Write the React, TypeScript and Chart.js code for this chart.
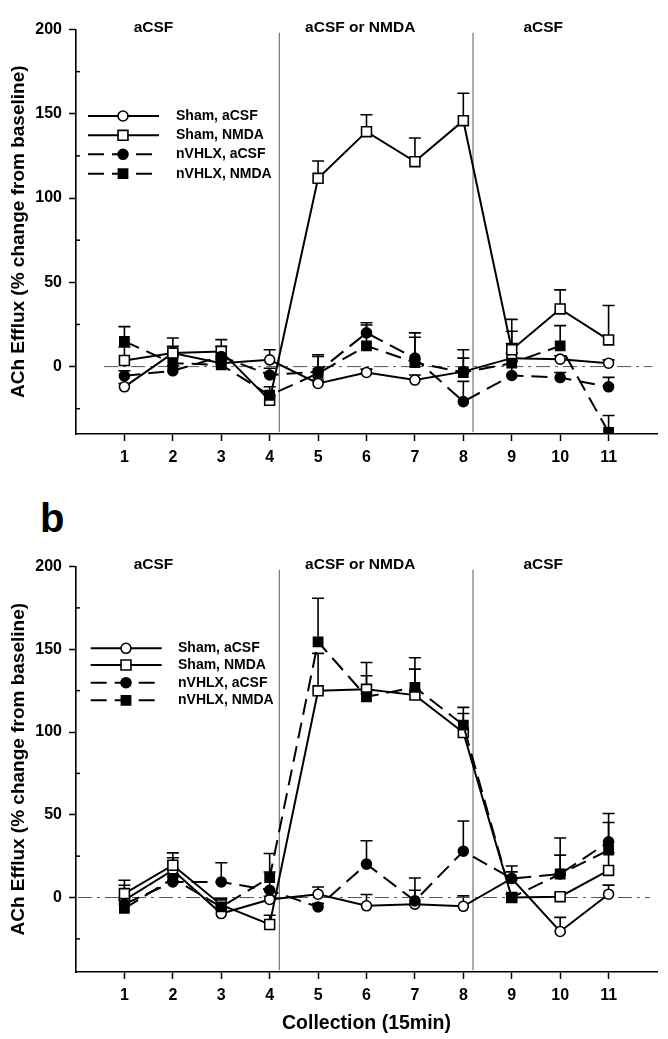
import React, { useEffect, useRef } from 'react';
import { Chart, registerables } from 'chart.js';

Chart.register(...registerables);

const FONT = '"Liberation Sans", Arial, Helvetica, sans-serif';

// ---------- categories / labels ----------
const collections = [1, 2, 3, 4, 5, 6, 7, 8, 9, 10, 11];
const xTickLabels = ['1', '2', '3', '4', '5', '6', '7', '8', '9', '10', '11'];
const seriesNames = ['Sham, aCSF', 'Sham, NMDA', 'nVHLX, aCSF', 'nVHLX, NMDA'];
const phaseLabels = ['aCSF', 'aCSF or NMDA', 'aCSF'];
const phaseCenters = [1.6, 5.87, 9.65];
const phaseBoundaries = [4.2, 8.2];
const yMajorTicks = [0, 50, 100, 150, 200];
const yMinorTicks = [-25, 25, 75, 125, 175];
const yTitle = 'ACh Efflux (% change from baseline)';
const xTitle = 'Collection (15min)';

// ---------- panel a ----------
const aShamACSF = [-12, 8, 2, 4, -10, -3.5, -8, -3, 5, 4.4, 2];
const aShamACSFErr = [2, 4, 3, 6, 2, 2, 3, 8, 3, 2, 2];
const aShamNMDA = [3.6, 8, 9, -20, 111.7, 139.4, 121.6, 145.9, 10, 34.2, 15.8];
const aShamNMDAErr = [8, 9, 7, 3, 10.3, 10, 14, 16.3, 18, 11.3, 20.4];
const aNvhlxACSF = [-5.5, -2.5, 6, -5, -3, 20, 5, -20.8, -5.3, -6.5, -12];
const aNvhlxACSFErr = [3, 3, 6, 4, 9, 6, 15, 12, 19, 3, 5.6];
const aNvhlxNMDA = [15, 2, 1, -17, -4, 12.3, 2.4, -3.5, 2, 12.3, -39];
const aNvhlxNMDAErr = [8.7, 4, 3, 5, 11, 12.4, 15, 13.5, 19, 12, 10];

// ---------- panel b ----------
const bShamACSF = [-1.6, 16.5, -9.7, -1.2, 2, -5, -4, -5.3, 11.5, -20.5, 2];
const bShamACSFErr = [9, 7.5, 3, 2, 4.4, 6.8, 8.4, 6.3, 4, 8.5, 5.5];
const bShamNMDA = [2.4, 19.5, -4.5, -16.3, 124.9, 125.8, 122.3, 99.7, 0, 0.5, 16.4];
const bShamNMDAErr = [8, 7.5, 4, 5.6, 22.6, 16.2, 15.7, 11.5, 2, 2, 10.6];
const bNvhlxACSF = [-4, 9.4, 9.4, 4.4, -5.7, 20.2, -2, 28, 11.5, 14.2, 33.6];
const bNvhlxACSFErr = [4, 3, 11.6, 11, 2, 14.1, 13.8, 18.2, 7.5, 21.8, 17.2];
const bNvhlxNMDA = [-6.6, 11.5, -5.7, 12, 154.5, 121.3, 127, 104.2, 0, 14.2, 28.6];
const bNvhlxNMDAErr = [5, 3, 5, 14.6, 26.3, 12.7, 17.9, 10.7, 2, 11.4, 16.7];

// ---------- series styles ----------
const pointStyles = ['circle', 'rect', 'circle', 'rect'];
const pointRadii = [5, 7, 5, 6.5];
const filled = [false, false, true, true];
const dashed = [false, false, true, true];
const DASH = [16, 8];

type PanelProps = {
  values: number[][];
  errs: number[][];
  yMin: number;
  top: number;
  height: number;
  padTop: number;
  xHeight: number;
  zeroFrom: number;
  zeroTo: number;
  legendRows: number[];
  legendLine: [number, number];
  legendMarker: number;
  legendText: number;
  showXTitle: boolean;
};

function Panel(p: PanelProps) {
  const ref = useRef<HTMLCanvasElement | null>(null);

  useEffect(() => {
    const canvas = ref.current;
    if (!canvas) return;

    const seriesDatasets = p.values.map((vals, s) => ({
      type: 'line' as const,
      label: seriesNames[s],
      data: collections.map((c, i) => ({ x: c, y: vals[i] })),
      borderColor: '#000',
      borderWidth: 2,
      borderDash: dashed[s] ? DASH : [],
      pointStyle: pointStyles[s],
      pointRadius: pointRadii[s],
      pointBorderWidth: 1.6,
      pointBorderColor: '#000',
      pointBackgroundColor: filled[s] ? '#000' : '#fff',
      tension: 0,
      order: 4 - s,
    }));

    const refDatasets = [
      {
        type: 'line' as const,
        label: 'zero',
        data: [
          { x: p.zeroFrom, y: 0 },
          { x: p.zeroTo, y: 0 },
        ],
        borderColor: '#555',
        borderWidth: 1,
        borderDash: [14, 5, 3, 5],
        pointRadius: 0,
        order: 20,
      },
      ...phaseBoundaries.map((b, k) => ({
        type: 'line' as const,
        label: 'boundary' + k,
        data: [
          { x: b, y: p.yMin + 1 },
          { x: b, y: 198 },
        ],
        borderColor: '#777',
        borderWidth: 1.2,
        pointRadius: 0,
        order: 21,
      })),
    ];

    const errorBarPlugin = {
      id: 'errorBars',
      beforeDatasetsDraw(chart: any) {
        const { ctx, scales } = chart;
        ctx.save();
        ctx.strokeStyle = '#000';
        ctx.lineWidth = 1.6;
        p.values.forEach((vals, s) => {
          vals.forEach((v, i) => {
            const x = scales.x.getPixelForValue(collections[i]);
            const y0 = scales.y.getPixelForValue(v);
            const y1 = scales.y.getPixelForValue(v + p.errs[s][i]);
            ctx.beginPath();
            ctx.moveTo(x, y0);
            ctx.lineTo(x, y1);
            ctx.moveTo(x - 6, y1);
            ctx.lineTo(x + 6, y1);
            ctx.stroke();
          });
        });
        ctx.restore();
      },
    };

    const decorPlugin = {
      id: 'decor',
      afterDraw(chart: any) {
        const { ctx, scales, chartArea } = chart;
        ctx.save();
        // minor ticks (inward)
        ctx.strokeStyle = '#000';
        ctx.lineWidth = 1.5;
        yMinorTicks.forEach((t) => {
          if (t < p.yMin) return;
          const y = scales.y.getPixelForValue(t);
          ctx.beginPath();
          ctx.moveTo(chartArea.left, y);
          ctx.lineTo(chartArea.left + 4, y);
          ctx.stroke();
        });
        // phase labels
        ctx.fillStyle = '#000';
        ctx.font = `bold 15.5px ${FONT}`;
        ctx.textAlign = 'center';
        ctx.textBaseline = 'alphabetic';
        const yTop = scales.y.getPixelForValue(200) + 2;
        phaseLabels.forEach((lab, k) => {
          ctx.fillText(lab, scales.x.getPixelForValue(phaseCenters[k]), yTop);
        });
        // legend
        ctx.font = `bold 14px ${FONT}`;
        ctx.textAlign = 'left';
        ctx.textBaseline = 'middle';
        seriesNames.forEach((name, s) => {
          const y = p.legendRows[s];
          ctx.strokeStyle = '#000';
          ctx.lineWidth = 2;
          ctx.setLineDash(dashed[s] ? DASH : []);
          ctx.beginPath();
          ctx.moveTo(p.legendLine[0], y);
          ctx.lineTo(dashed[s] ? p.legendLine[1] - 6 : p.legendLine[1], y);
          ctx.stroke();
          ctx.setLineDash([]);
          ctx.lineWidth = 1.6;
          ctx.fillStyle = filled[s] ? '#000' : '#fff';
          ctx.beginPath();
          if (pointStyles[s] === 'circle') {
            ctx.arc(p.legendMarker, y, pointRadii[s], 0, Math.PI * 2);
          } else {
            const h = pointRadii[s] * Math.SQRT1_2;
            ctx.rect(p.legendMarker - h, y - h, 2 * h, 2 * h);
          }
          ctx.fill();
          ctx.stroke();
          ctx.fillStyle = '#000';
          ctx.fillText(name, p.legendText, y);
        });
        ctx.restore();
      },
    };

    const tickFont = { family: FONT, size: 16, weight: 'bold' as const };
    const titleFont = { family: FONT, size: 19, weight: 'bold' as const };

    const chart = new Chart(canvas, {
      type: 'line',
      data: { datasets: [...seriesDatasets, ...refDatasets] as any },
      options: {
        animation: false,
        responsive: false,
        maintainAspectRatio: false,
        devicePixelRatio: 1,
        layout: { padding: { top: p.padTop, right: 11, left: 0, bottom: 0 } },
        plugins: {
          legend: { display: false },
          tooltip: { enabled: false },
          title: { display: false },
        },
        scales: {
          x: {
            type: 'linear',
            min: 0,
            max: 12,
            afterBuildTicks: (s: any) => {
              s.ticks = collections.map((v) => ({ value: v }));
            },
            afterFit: (s: any) => {
              s.height = p.xHeight;
            },
            grid: {
              drawOnChartArea: false,
              drawTicks: true,
              tickLength: 7,
              tickWidth: 1.5,
              tickColor: '#000',
            },
            border: { display: true, color: '#000', width: 1.6 },
            ticks: {
              color: '#000',
              font: tickFont,
              padding: 7,
              autoSkip: false,
              maxRotation: 0,
              callback: (v: any) => {
                const i = collections.indexOf(Number(v));
                return i >= 0 ? xTickLabels[i] : '';
              },
            },
            title: {
              display: p.showXTitle,
              text: xTitle,
              color: '#000',
              font: { family: FONT, size: 19.5, weight: 'bold' as const },
              padding: { top: 0, bottom: 4 },
            },
          },
          y: {
            type: 'linear',
            min: p.yMin,
            max: 200,
            afterBuildTicks: (s: any) => {
              s.ticks = [...yMinorTicks.filter((t) => t >= p.yMin), ...yMajorTicks]
                .sort((a, b) => a - b)
                .map((v) => ({ value: v }));
            },
            afterFit: (s: any) => {
              s.width = 76;
            },
            grid: {
              drawOnChartArea: false,
              drawTicks: true,
              tickLength: 7,
              tickWidth: 1.5,
              tickColor: (ctx: any) =>
                ctx.tick && yMajorTicks.includes(ctx.tick.value) ? '#000' : 'rgba(0,0,0,0)',
            },
            border: { display: true, color: '#000', width: 1.6 },
            ticks: {
              color: '#000',
              font: tickFont,
              padding: 7,
              autoSkip: false,
              callback: (v: any) => (yMajorTicks.includes(Number(v)) ? String(v) : ''),
            },
            title: {
              display: true,
              text: yTitle,
              color: '#000',
              font: titleFont,
              padding: { top: 7, bottom: 0 },
            },
          },
        },
      },
      plugins: [errorBarPlugin, decorPlugin],
    });

    return () => chart.destroy();
  }, []);

  return (
    <canvas
      ref={ref}
      width={668}
      height={p.height}
      style={{ position: 'absolute', left: 0, top: p.top, width: 668, height: p.height, display: 'block' }}
    />
  );
}

export default function App() {
  return (
    <div style={{ position: 'absolute', left: 0, top: 0, width: 668, height: 1039, background: '#fff', overflow: 'hidden' }}>
      <Panel
        values={[aShamACSF, aShamNMDA, aNvhlxACSF, aNvhlxNMDA]}
        errs={[aShamACSFErr, aShamNMDAErr, aNvhlxACSFErr, aNvhlxNMDAErr]}
        yMin={-40}
        top={0}
        height={475}
        padTop={29.5}
        xHeight={41}
        zeroFrom={0.58}
        zeroTo={11.9}
        legendRows={[116, 135.3, 154.3, 173.7]}
        legendLine={[88, 159]}
        legendMarker={123}
        legendText={176}
        showXTitle={false}
      />
      <div
        style={{
          position: 'absolute',
          left: 40,
          top: 498,
          fontFamily: FONT,
          fontWeight: 'bold',
          fontSize: 40,
          lineHeight: '40px',
          color: '#000',
        }}
      >
        b
      </div>
      <Panel
        values={[bShamACSF, bShamNMDA, bNvhlxACSF, bNvhlxNMDA]}
        errs={[bShamACSFErr, bShamNMDAErr, bNvhlxACSFErr, bNvhlxNMDAErr]}
        yMin={-45}
        top={540}
        height={499}
        padTop={26.5}
        xHeight={67}
        zeroFrom={0.04}
        zeroTo={11.85}
        legendRows={[108.3, 125, 142.7, 160.3]}
        legendLine={[90.7, 161.7]}
        legendMarker={126}
        legendText={178}
        showXTitle={true}
      />
    </div>
  );
}
